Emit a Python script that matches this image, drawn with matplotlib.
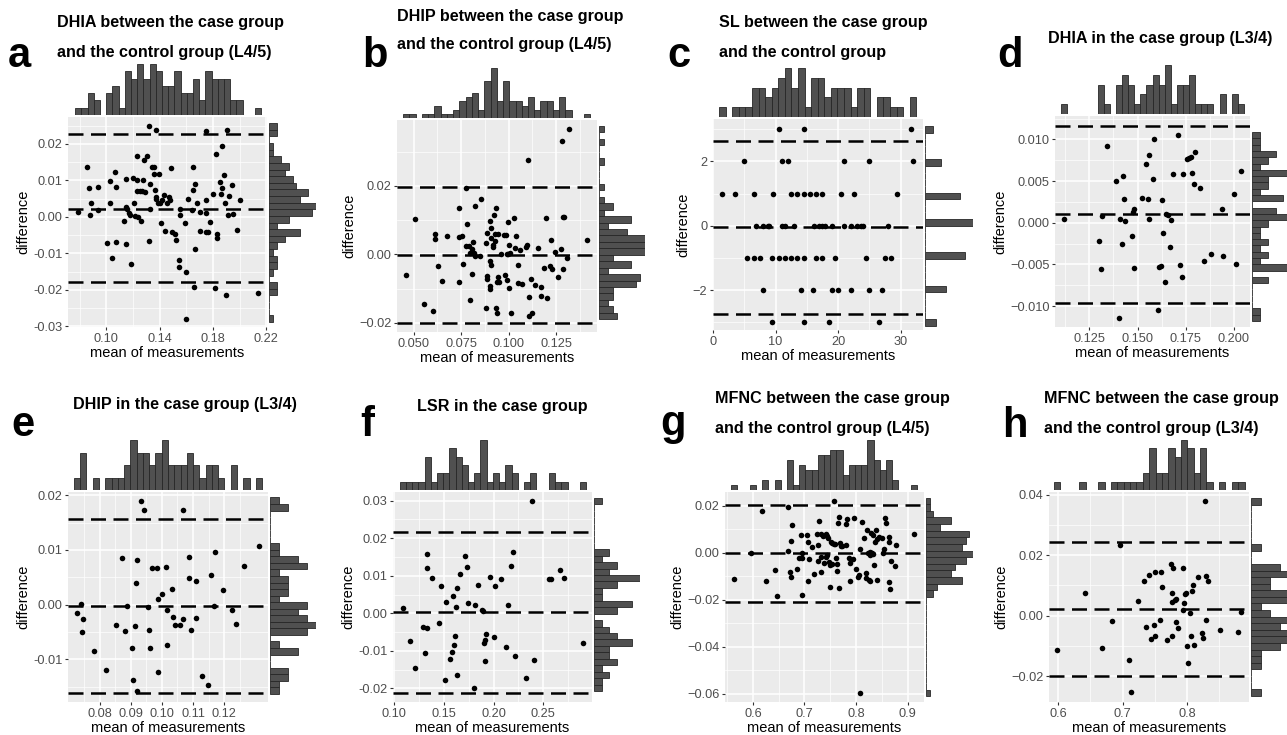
import numpy as np
import matplotlib
matplotlib.use('Agg')
import matplotlib.pyplot as plt

plt.rcParams['font.family'] = ['Liberation Sans', 'DejaVu Sans']

a_pts = [(0.0789, 0.0014), (0.0853, 0.0137), (0.0866, 0.0079), (0.0888, 0.0039), (0.0878, 0.0005),
         (0.0940, 0.0081), (0.0938, 0.0018), (0.1002, -0.0071), (0.1027, 0.0099), (0.1027, 0.0039),
         (0.1045, -0.0112), (0.1062, 0.0123), (0.1070, -0.0068), (0.1075, 0.0082), (0.1144, 0.0103),
         (0.1132, -0.0011), (0.1144, 0.0027), (0.1147, -0.0073), (0.1157, 0.0023), (0.1169, 0.0011),
         (0.1176, 0.0005), (0.1186, -0.0128), (0.1199, 0.0108), (0.1206, 0.0039), (0.1211, 0.0002),
         (0.1226, 0.0102), (0.1231, 0.0166), (0.1231, 0.0071), (0.1236, 0.0000), (0.1251, 0.0071),
         (0.1256, -0.0011), (0.1268, 0.0071), (0.1276, 0.0102), (0.1281, 0.0157), (0.1293, 0.0068),
         (0.1318, -0.0066), (0.1306, 0.0166), (0.1325, 0.0091), (0.1330, 0.0023), (0.1343, 0.0137),
         (0.1355, 0.0137), (0.1360, 0.0119), (0.1368, 0.0073), (0.1373, 0.0048), (0.1375, 0.0055),
         (0.1385, 0.0038), (0.1318, 0.0248), (0.1370, 0.0237), (0.1393, 0.0119), (0.1405, 0.0039),
         (0.1417, 0.0046), (0.1430, 0.0059), (0.1412, -0.0018), (0.1442, -0.0039), (0.1455, 0.0038),
         (0.1467, 0.0055), (0.1480, 0.0046), (0.1484, 0.0134), (0.1492, -0.0041), (0.1517, -0.0046),
         (0.1522, -0.0062), (0.1547, -0.0117), (0.1547, -0.0137), (0.1554, 0.0021), (0.1554, 0.0005),
         (0.1591, -0.0016), (0.1599, -0.0279), (0.1599, -0.0151), (0.1616, 0.0048), (0.1641, 0.0020),
         (0.1653, 0.0073), (0.1666, 0.0091), (0.1648, 0.0137), (0.1661, -0.0192), (0.1666, -0.0089),
         (0.1745, 0.0236), (0.1678, 0.0037), (0.1703, 0.0014), (0.1703, -0.0040), (0.1745, -0.0041),
         (0.1765, -0.0041), (0.1745, 0.0011), (0.1778, -0.0014), (0.1748, 0.0046), (0.1802, 0.0064),
         (0.1822, 0.0172), (0.1815, -0.0196), (0.1827, -0.0046), (0.1832, -0.0057), (0.1852, 0.0096),
         (0.1860, 0.0064), (0.1865, 0.0078), (0.1865, 0.0195), (0.1882, 0.0114), (0.1889, 0.0038),
         (0.1897, -0.0215), (0.1907, 0.0239), (0.1914, 0.0005), (0.1922, 0.0058), (0.1944, 0.0087),
         (0.1947, 0.0009), (0.1981, -0.0035), (0.2001, 0.0047), (0.2138, -0.0210)]

b_pts = [(0.0462, -0.0062), (0.0505, 0.0103), (0.0556, -0.0146), (0.0603, -0.0166), (0.0612, 0.0059),
         (0.0615, 0.0046), (0.0631, -0.0035), (0.0650, -0.0079), (0.0677, 0.0052), (0.0738, -0.0081),
         (0.0738, 0.0049), (0.0741, 0.0134), (0.0752, 0.0054), (0.0760, -0.0028), (0.0773, 0.0194),
         (0.0780, 0.0089), (0.0778, 0.0025), (0.0790, 0.0023), (0.0794, -0.0135), (0.0799, 0.0005),
         (0.0808, -0.0059), (0.0808, 0.0016), (0.0815, 0.0037), (0.0816, 0.0003), (0.0822, 0.0141),
         (0.0825, -0.0004), (0.0850, -0.0004), (0.0855, 0.0162), (0.0881, -0.0156), (0.0881, 0.0033),
         (0.0885, -0.0064), (0.0885, -0.0071), (0.0886, 0.0063), (0.0902, 0.0098), (0.0902, -0.0021),
         (0.0902, -0.0093), (0.0902, -0.0100), (0.0906, 0.0077), (0.0908, 0.0047), (0.0909, -0.0032),
         (0.0916, 0.0020), (0.0920, 0.0028), (0.0923, 0.0116), (0.0927, 0.0038), (0.0927, 0.0058),
         (0.0934, 0.0136), (0.0935, -0.0158), (0.0937, -0.0172), (0.0937, -0.0081), (0.0944, -0.0066),
         (0.0946, 0.0058), (0.0951, -0.0081), (0.0962, 0.0000), (0.0976, 0.0056), (0.0981, -0.0061),
         (0.0986, 0.0056), (0.0990, -0.0074), (0.0990, 0.0000), (0.0997, 0.0002), (0.0998, 0.0094),
         (0.1000, -0.0098), (0.1003, 0.0028), (0.1005, 0.0005), (0.1012, -0.0172), (0.1030, 0.0105),
         (0.1035, 0.0018), (0.1038, 0.0053), (0.1049, -0.0032), (0.1051, -0.0083), (0.1059, 0.0012),
         (0.1070, -0.0086), (0.1089, 0.0021), (0.1098, 0.0026), (0.1103, 0.0275), (0.1105, -0.0180),
         (0.1108, -0.0125), (0.1115, -0.0073), (0.1121, -0.0172), (0.1136, -0.0091), (0.1154, 0.0019),
         (0.1171, -0.0096), (0.1171, -0.0122), (0.1184, -0.0039), (0.1196, 0.0106), (0.1201, -0.0128),
         (0.1217, -0.0035), (0.1222, 0.0041), (0.1227, -0.0042), (0.1243, 0.0006), (0.1260, -0.0066),
         (0.1275, 0.0016), (0.1280, 0.0332), (0.1283, 0.0109), (0.1290, 0.0109), (0.1283, -0.0043),
         (0.1308, -0.0011), (0.1315, 0.0365), (0.1413, 0.0041)]

# SL: differences are whole numbers, means listed per difference level
c_rows = {
    3: [10.5, 14.5, 31.6],
    2: [5.0, 11.0, 12.0, 21.0, 25.0, 32.0],
    1: [1.5, 3.5, 6.5, 9.6, 12.5, 13.5, 14.5, 15.5, 16.5, 17.5, 20.5, 22.5, 29.5],
    0: [6.9, 8.0, 8.8, 9.0, 11.0, 11.5, 12.9, 16.1, 17.0, 17.4, 17.9, 19.0, 20.9, 22.0, 23.1, 23.6, 24.0, 28.0],
    -1: [5.5, 6.5, 7.5, 9.5, 10.5, 11.5, 12.5, 13.5, 14.5, 16.5, 17.5, 19.5, 24.5, 27.5, 28.5],
    -2: [8.0, 14.0, 16.0, 19.0, 20.0, 22.0, 25.0, 27.0],
    -3: [9.5, 14.5, 18.5, 26.5],
}

d_pts = [(0.1119, 0.0004), (0.1342, 0.0092), (0.1298, -0.0022), (0.1314, 0.0008), (0.1310, -0.0055),
         (0.1388, 0.0050), (0.1409, 0.0004), (0.1426, 0.0056), (0.1428, 0.0029), (0.1435, 0.0002),
         (0.1421, -0.0025), (0.1469, -0.0016), (0.1475, 0.0013), (0.1480, 0.0016), (0.1483, -0.0054),
         (0.1521, 0.0030), (0.1542, 0.0071), (0.1558, 0.0081), (0.1554, 0.0028), (0.1558, 0.0005),
         (0.1578, 0.0052), (0.1584, 0.0101), (0.1609, -0.0053), (0.1619, -0.0052), (0.1625, 0.0027),
         (0.1634, -0.0012), (0.1641, -0.0071), (0.1647, 0.0010), (0.1656, 0.0009), (0.1668, -0.0029),
         (0.1672, 0.0003), (0.1685, 0.0059), (0.1606, -0.0105), (0.1710, 0.0105), (0.1720, -0.0051),
         (0.1732, -0.0065), (0.1737, 0.0059), (0.1755, 0.0077), (0.1765, 0.0078), (0.1775, 0.0079),
         (0.1780, 0.0060), (0.1794, 0.0047), (0.1798, 0.0085), (0.1824, 0.0042), (0.1846, -0.0046),
         (0.1881, -0.0038), (0.1941, -0.0040), (0.1938, 0.0016), (0.1998, 0.0035), (0.2009, -0.0050),
         (0.2036, 0.0062), (0.1402, -0.0114)]

e_pts = [(0.0727, -0.0016), (0.0739, 0.0002), (0.0747, -0.0026), (0.0743, -0.0050), (0.0782, -0.0085),
         (0.0819, -0.0120), (0.0853, -0.0038), (0.0873, 0.0085), (0.0881, -0.0048), (0.0888, -0.0002),
         (0.0905, -0.0080), (0.0906, -0.0138), (0.0912, -0.0039), (0.0918, 0.0040), (0.0920, 0.0082),
         (0.0919, -0.0157), (0.0933, 0.0190), (0.0942, 0.0173), (0.0956, -0.0005), (0.0958, -0.0047),
         (0.0963, -0.0080), (0.0969, 0.0067), (0.0983, 0.0067), (0.0987, 0.0011), (0.0988, -0.0124),
         (0.1001, 0.0020), (0.1012, 0.0069), (0.1017, -0.0010), (0.1016, -0.0073), (0.1033, 0.0029),
         (0.1037, -0.0023), (0.1043, -0.0038), (0.1058, -0.0038), (0.1069, 0.0173), (0.1069, -0.0027),
         (0.1087, 0.0087), (0.1087, 0.0049), (0.1095, -0.0046), (0.1108, 0.0043), (0.1109, -0.0024),
         (0.1130, -0.0131), (0.1147, -0.0146), (0.1159, 0.0055), (0.1166, -0.0003), (0.1172, 0.0096),
         (0.1195, 0.0026), (0.1226, -0.0010), (0.1237, -0.0035), (0.1263, 0.0071), (0.1312, 0.0108)]

f_pts = [(0.1087, 0.0014), (0.1157, -0.0074), (0.1207, -0.0145), (0.1310, -0.0106), (0.1333, 0.0159),
         (0.1333, 0.0120), (0.1287, -0.0036), (0.1327, -0.0038), (0.1383, 0.0095), (0.1447, -0.0025),
         (0.1473, 0.0073), (0.1510, -0.0178), (0.1520, 0.0031), (0.1560, -0.0121), (0.1580, -0.0103),
         (0.1590, 0.0046), (0.1607, -0.0084), (0.1610, -0.0060), (0.1627, 0.0018), (0.1630, 0.0067),
         (0.1637, -0.0163), (0.1660, 0.0106), (0.1717, 0.0152), (0.1733, 0.0123), (0.1740, 0.0028),
         (0.1800, -0.0198), (0.1813, 0.0022), (0.1847, 0.0075), (0.1880, 0.0009), (0.1893, 0.0006),
         (0.1903, -0.0079), (0.1910, -0.0127), (0.1913, -0.0070), (0.1920, -0.0054), (0.1960, 0.0097),
         (0.2000, -0.0062), (0.2010, 0.0072), (0.2077, 0.0092), (0.2130, -0.0089), (0.2147, 0.0023),
         (0.2180, 0.0127), (0.2197, 0.0163), (0.2220, -0.0114), (0.2323, -0.0171), (0.2383, 0.0299),
         (0.2407, -0.0123), (0.2560, 0.0092), (0.2577, 0.0091), (0.2670, 0.0115), (0.2707, 0.0094),
         (0.2900, -0.0079)]

g_pts = [(0.5641, -0.0110), (0.5955, 0.0000), (0.6186, 0.0178), (0.6250, -0.0120), (0.6436, -0.0075),
         (0.6474, -0.0183), (0.6686, 0.0195), (0.6686, 0.0008), (0.6724, -0.0081), (0.6737, 0.0051),
         (0.6744, -0.0102), (0.6769, 0.0120), (0.6865, -0.0071), (0.6904, -0.0021), (0.6936, 0.0075),
         (0.6949, -0.0181), (0.6955, 0.0000), (0.6962, -0.0021), (0.7058, 0.0075), (0.7064, -0.0120),
         (0.7077, 0.0045), (0.7090, -0.0028), (0.7154, 0.0025), (0.7179, -0.0091), (0.7244, 0.0082),
         (0.7256, 0.0034), (0.7263, -0.0037), (0.7288, 0.0136), (0.7314, 0.0079), (0.7314, -0.0017),
         (0.7320, -0.0082), (0.7365, 0.0071), (0.7378, -0.0044), (0.7410, 0.0082), (0.7417, -0.0017),
         (0.7429, 0.0071), (0.7442, -0.0010), (0.7455, 0.0065), (0.7468, -0.0040), (0.7494, -0.0146),
         (0.7506, -0.0051), (0.7519, 0.0047), (0.7532, 0.0040), (0.7545, -0.0048), (0.7570, 0.0037),
         (0.7583, 0.0221), (0.7596, 0.0037), (0.7609, -0.0024), (0.7635, -0.0048), (0.7635, -0.0076),
         (0.7654, 0.0127), (0.7673, 0.0153), (0.7673, -0.0149), (0.7699, 0.0040), (0.7712, 0.0028),
         (0.7724, 0.0028), (0.7801, 0.0033), (0.7808, 0.0122), (0.7833, 0.0142), (0.7865, -0.0021),
         (0.7878, -0.0119), (0.7891, -0.0045), (0.7942, -0.0025), (0.7968, 0.0150), (0.7994, -0.0069),
         (0.8045, -0.0105), (0.8058, -0.0096), (0.8083, 0.0014), (0.8109, 0.0132), (0.8160, 0.0061),
         (0.8186, -0.0085), (0.8192, -0.0109), (0.8212, 0.0099), (0.8237, 0.0000), (0.8250, -0.0116),
         (0.8263, -0.0008), (0.8269, 0.0004), (0.8276, -0.0122), (0.8288, -0.0003), (0.8301, 0.0086),
         (0.8314, -0.0003), (0.8327, 0.0075), (0.8340, -0.0004), (0.8353, -0.0054), (0.8365, 0.0047),
         (0.8391, 0.0099), (0.8404, 0.0057), (0.8417, -0.0116), (0.8442, 0.0068), (0.8506, 0.0065),
         (0.8519, 0.0000), (0.8545, 0.0014), (0.8571, 0.0150), (0.8583, 0.0125), (0.8635, 0.0068),
         (0.8647, 0.0044), (0.8647, -0.0123), (0.8654, -0.0153), (0.8673, -0.0034), (0.8750, -0.0057),
         (0.8776, 0.0033), (0.9122, 0.0079), (0.8080, -0.0598)]

h_pts = [(0.5984, -0.0115), (0.6421, 0.0074), (0.6674, -0.0108), (0.6837, -0.0018), (0.6958, 0.0235),
         (0.7095, -0.0146), (0.7132, -0.0254), (0.7247, 0.0047), (0.7332, 0.0115), (0.7368, -0.0037),
         (0.7416, 0.0135), (0.7437, -0.0078), (0.7484, -0.0030), (0.7500, 0.0143), (0.7505, -0.0066),
         (0.7579, -0.0014), (0.7595, 0.0143), (0.7611, 0.0093), (0.7684, -0.0080), (0.7747, 0.0170),
         (0.7763, -0.0066), (0.7768, 0.0044), (0.7774, 0.0074), (0.7779, 0.0157), (0.7811, 0.0052),
         (0.7821, 0.0056), (0.7832, -0.0020), (0.7858, -0.0040), (0.7932, 0.0157), (0.7937, 0.0019),
         (0.7947, 0.0041), (0.7963, 0.0071), (0.7979, 0.0076), (0.8000, -0.0101), (0.8011, -0.0157),
         (0.8042, 0.0007), (0.8063, -0.0069), (0.8079, 0.0082), (0.8089, 0.0101), (0.8111, -0.0097),
         (0.8168, 0.0129), (0.8237, -0.0058), (0.8253, -0.0075), (0.8289, 0.0130), (0.8295, -0.0013),
         (0.8332, 0.0116), (0.8284, 0.0378), (0.8516, -0.0047), (0.8789, -0.0053), (0.8842, 0.0011)]

# limits of agreement (upper, mean, lower)
loa = {
    'a': [0.0228, 0.0023, -0.0178],
    'b': [0.0196, -0.0001, -0.0200],
    'c': [2.63, -0.05, -2.74],
    'd': [0.01166, 0.00104, -0.00966],
    'e': [0.0156, -0.0002, -0.0162],
    'f': [0.0217, 0.0003, -0.0213],
    'g': [0.0205, -0.0003, -0.0211],
    'h': [0.0244, 0.0022, -0.0199],
}

titles = {
    'a': ['DHIA between the case group', 'and the control group (L4/5)'],
    'b': ['DHIP between the case group', 'and the control group (L4/5)'],
    'c': ['SL between the case group', 'and the control group'],
    'd': ['DHIA in the case group (L3/4)'],
    'e': ['DHIP in the case group (L3/4)'],
    'f': ['LSR in the case group'],
    'g': ['MFNC between the case group', 'and the control group (L4/5)'],
    'h': ['MFNC between the case group', 'and the control group (L3/4)'],
}

M = '\u2212'
xticks = {
    'a': ([0.10, 0.14, 0.18, 0.22], ['0.10', '0.14', '0.18', '0.22']),
    'b': ([0.050, 0.075, 0.100, 0.125], ['0.050', '0.075', '0.100', '0.125']),
    'c': ([0, 10, 20, 30], ['0', '10', '20', '30']),
    'd': ([0.125, 0.150, 0.175, 0.200], ['0.125', '0.150', '0.175', '0.200']),
    'e': ([0.08, 0.09, 0.10, 0.11, 0.12], ['0.08', '0.09', '0.10', '0.11', '0.12']),
    'f': ([0.10, 0.15, 0.20, 0.25], ['0.10', '0.15', '0.20', '0.25']),
    'g': ([0.6, 0.7, 0.8, 0.9], ['0.6', '0.7', '0.8', '0.9']),
    'h': ([0.6, 0.7, 0.8], ['0.6', '0.7', '0.8']),
}
yticks = {
    'a': ([-0.03, -0.02, -0.01, 0.0, 0.01, 0.02], ['-0.03', '-0.02', '-0.01', '0.00', '0.01', '0.02']),
    'b': ([-0.02, 0.0, 0.02], [M + '0.02', '0.00', '0.02']),
    'c': ([-2, 0, 2], [M + '2', '0', '2']),
    'd': ([-0.010, -0.005, 0.0, 0.005, 0.010], [M + '0.010', M + '0.005', '0.000', '0.005', '0.010']),
    'e': ([-0.01, 0.0, 0.01, 0.02], ['-0.01', '0.00', '0.01', '0.02']),
    'f': ([-0.02, -0.01, 0.0, 0.01, 0.02, 0.03], ['-0.02', '-0.01', '0.00', '0.01', '0.02', '0.03']),
    'g': ([-0.06, -0.04, -0.02, 0.0, 0.02], [M + '0.06', M + '0.04', M + '0.02', '0.00', '0.02']),
    'h': ([-0.02, 0.0, 0.02, 0.04], [M + '0.02', '0.00', '0.02', '0.04']),
}
lims = {
    'a': ((0.0712, 0.2205), (-0.0302, 0.0274)),
    'b': ((0.0413, 0.1464), (-0.0227, 0.0392)),
    'c': ((0.0, 33.6), (-3.24, 3.32)),
    'd': ((0.1072, 0.2083), (-0.0125, 0.0128)),
    'e': ((0.0698, 0.1341), (-0.0178, 0.0206)),
    'f': ((0.0989, 0.2990), (-0.0236, 0.0323)),
    'g': ((0.546, 0.932), (-0.0636, 0.0259)),
    'h': ((0.586, 0.896), (-0.0286, 0.0409)),
}

# layout in pixels: main panel box, top of upper histogram, right end of side histogram
W, H = 1287, 735
boxes = {
    'a': ((68, 117, 267, 327), 64, 316),
    'b': ((397, 120, 597, 332), 68, 645),
    'c': ((713, 119, 923, 330), 68, 973),
    'd': ((1055, 116, 1250, 327), 65, 1299),
    'e': ((68, 492, 268, 702), 440, 316),
    'f': ((393, 492, 592, 702), 440, 640),
    'g': ((725, 492, 924, 702), 440, 973),
    'h': ((1049, 492, 1249, 702), 440, 1299),
}
title_pos = {
    'a': (57, [22, 53]), 'b': (397, [17, 45]), 'c': (719, [22, 52]), 'd': (1048, [38]),
    'e': (73, [405]), 'f': (417, [407]), 'g': (715, [398, 428]), 'h': (1044, [399, 429]),
}
letter_pos = {
    'a': (8, 67), 'b': (362, 67), 'c': (667, 67), 'd': (997, 67),
    'e': (11, 436), 'f': (360, 436), 'g': (660, 435), 'h': (1002, 437),
}


def add_axes(fig, x0, y0, x1, y1):
    return fig.add_axes([x0 / W, 1 - y1 / H, (x1 - x0) / W, (y1 - y0) / H])


def gg_bins(v):
    # ggplot2 style: 30 bins, first one centred on the minimum
    lo, hi = np.min(v), np.max(v)
    w = (hi - lo) / 29
    return np.linspace(lo - w / 2, hi + w / 2, 31)


def minor_of(t):
    t = np.asarray(t, float)
    step = t[1] - t[0]
    ext = np.concatenate([[t[0] - step], t, [t[-1] + step]])
    return (ext[:-1] + ext[1:]) / 2


def panel(fig, key, x, y):
    (x0, y0, x1, y1), top, rx1 = boxes[key]
    xl, yl = lims[key]
    ax = add_axes(fig, x0, y0, x1, y1)
    ax.set_facecolor('#EBEBEB')
    for s in ax.spines.values():
        s.set_visible(False)
    xt, xtl = xticks[key]
    yt, ytl = yticks[key]
    ax.set_xticks(xt)
    ax.set_xticklabels(xtl)
    ax.set_yticks(yt)
    ax.set_yticklabels(ytl)
    ax.set_xticks(minor_of(xt), minor=True)
    ax.set_yticks(minor_of(yt), minor=True)
    ax.grid(True, which='major', color='white', lw=1.1)
    ax.grid(True, which='minor', color='white', lw=0.5)
    ax.set_axisbelow(True)
    ax.tick_params(which='major', length=2.5, width=0.8, color='#333333',
                   labelcolor='#4D4D4D', labelsize=9.2, pad=1.5)
    ax.tick_params(which='minor', length=0)
    ax.set_xlim(xl)
    ax.set_ylim(yl)
    for v in loa[key]:
        ax.axhline(v, color='black', lw=1.8, ls=(0, (6.0, 3.0)), zorder=2)
    ax.scatter(x, y, s=16, color='black', zorder=3, linewidths=0)
    ax.set_xlabel('mean of measurements', fontsize=10.5, labelpad=1)
    ax.set_ylabel('difference', fontsize=10.5, labelpad=2)

    hist_kw = dict(color='#505050', edgecolor='#262626', linewidth=0.6)
    axt = add_axes(fig, x0, top, x1, y0 - 2)
    n, _, _ = axt.hist(x, bins=gg_bins(x), **hist_kw)
    axt.set_xlim(xl)
    axt.set_ylim(0, n.max())
    axt.axis('off')

    axr = add_axes(fig, x1 + 2, y0, rx1, y1)
    n, _, _ = axr.hist(y, bins=gg_bins(y), orientation='horizontal', **hist_kw)
    axr.set_ylim(yl)
    axr.set_xlim(0, n.max())
    axr.axis('off')

    tx, tys = title_pos[key]
    for line, ty in zip(titles[key], tys):
        fig.text(tx / W, 1 - ty / H, line, fontsize=11.6, fontweight='bold',
                 ha='left', va='center')
    lx, ly = letter_pos[key]
    fig.text(lx / W, 1 - ly / H, key, fontsize=30, fontweight='bold',
             ha='left', va='baseline')


fig = plt.figure(figsize=(W / 100, H / 100), dpi=100)

c_x = [m for lvl in c_rows for m in c_rows[lvl]]
c_y = [lvl for lvl in c_rows for m in c_rows[lvl]]

data = {
    'a': np.array(a_pts).T, 'b': np.array(b_pts).T, 'c': (np.array(c_x), np.array(c_y, float)),
    'd': np.array(d_pts).T, 'e': np.array(e_pts).T, 'f': np.array(f_pts).T,
    'g': np.array(g_pts).T, 'h': np.array(h_pts).T,
}
for k in 'abcdefgh':
    panel(fig, k, data[k][0], data[k][1])

fig.savefig('out.png', dpi=100)
